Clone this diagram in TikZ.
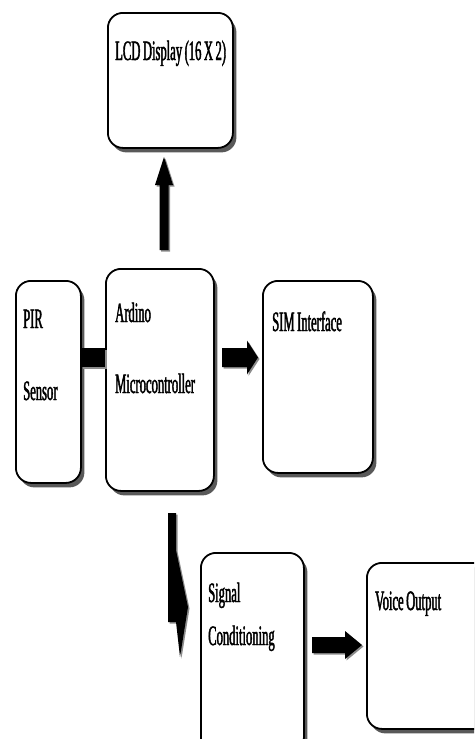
\documentclass[tikz,border=0pt]{standalone}
\usepackage{fontspec}
\setmainfont{Liberation Serif}[FakeStretch=0.45, FakeBold=1.5, WordSpace=0.8]
\usetikzlibrary{shadows,calc}
\tikzset{
  blk/.style={draw=black, line width=1.8pt, rounded corners=15pt, fill=white,
    drop shadow={shadow xshift=3.5pt, shadow yshift=-4.5pt, fill=black!65, opacity=1},
    anchor=north west, inner sep=0pt},
  lbl/.style={anchor=base west, inner sep=0pt, font=\fontsize{28}{32}\selectfont},
  arr/.style={fill=black,
    drop shadow={shadow xshift=1.5pt, shadow yshift=-1.5pt, fill=black!45, opacity=1}}
}
\newcommand\harrow[5]{%
  \fill[arr] ($(#1)+(0,-#3)$) -- ($(#2)+(-#5,-#3)$) -- ($(#2)+(-#5,-#4)$) -- (#2)
    -- ($(#2)+(-#5,#4)$) -- ($(#2)+(-#5,#3)$) -- ($(#1)+(0,#3)$) -- cycle;}
\newcommand\varrowup[5]{%
  \fill[arr] ($(#1)+(-#3,0)$) -- ($(#2)+(-#3,#5)$) -- ($(#2)+(-#4,#5)$) -- (#2)
    -- ($(#2)+(#4,#5)$) -- ($(#2)+(#3,#5)$) -- ($(#1)+(#3,0)$) -- cycle;}
\begin{document}
\begin{tikzpicture}[x=1pt,y=-1pt]
\useasboundingbox (0,0) rectangle (474,739);
\clip (0,0) rectangle (474,739);
% boxes
\node[blk, minimum width=125pt, minimum height=135pt] (lcd) at (107,12) {};
\node[blk, minimum width=65pt, minimum height=202pt] (pir) at (15,280) {};
\node[blk, minimum width=108pt, minimum height=222pt] (micro) at (105,268) {};
\node[blk, minimum width=110pt, minimum height=192pt] (sim) at (262,280) {};
\node[blk, minimum width=103pt, minimum height=200pt] (sig) at (200,552) {};
\node[blk, minimum width=130pt, minimum height=166pt] (voice) at (366,562) {};
% labels
\node[lbl] (tlcd) at (115,60) {LCD Display (16 X 2)};
\node[lbl] (tpir1) at (23,328) {PIR};
\node[lbl] (tpir2) at (23,400) {Sensor};
\node[lbl] (tmic1) at (115,322) {Ardino};
\node[lbl] (tmic2) at (115,393) {Microcontroller};
\node[lbl] (tsim) at (272,331) {SIM Interface};
\node[lbl] (tsig1) at (208,602) {Signal};
\node[lbl] (tsig2) at (208,645) {Conditioning};
\node[lbl] (tvoice) at (375,610) {Voice Output};
% connectors
\coordinate (up-a) at (164,250);
\coordinate (up-b) at (164,157);
\varrowup{up-a}{up-b}{4.5}{9}{28}
\fill[arr] (pir.east |- 0,348) rectangle (micro.west |- 0,367);
\coordinate (ms-a) at (222,357.5);
\coordinate (ms-b) at (258,357.5);
\harrow{ms-a}{ms-b}{9.5}{17}{11}
\fill[arr] (168,513) -- (176,513) -- (176,550) -- (188,607) -- (180,657)
  -- (176,622) -- (168,622) -- cycle;
\coordinate (sv-a) at (312,645);
\coordinate (sv-b) at (362,645);
\harrow{sv-a}{sv-b}{8}{14}{17}
\end{tikzpicture}
\end{document}
